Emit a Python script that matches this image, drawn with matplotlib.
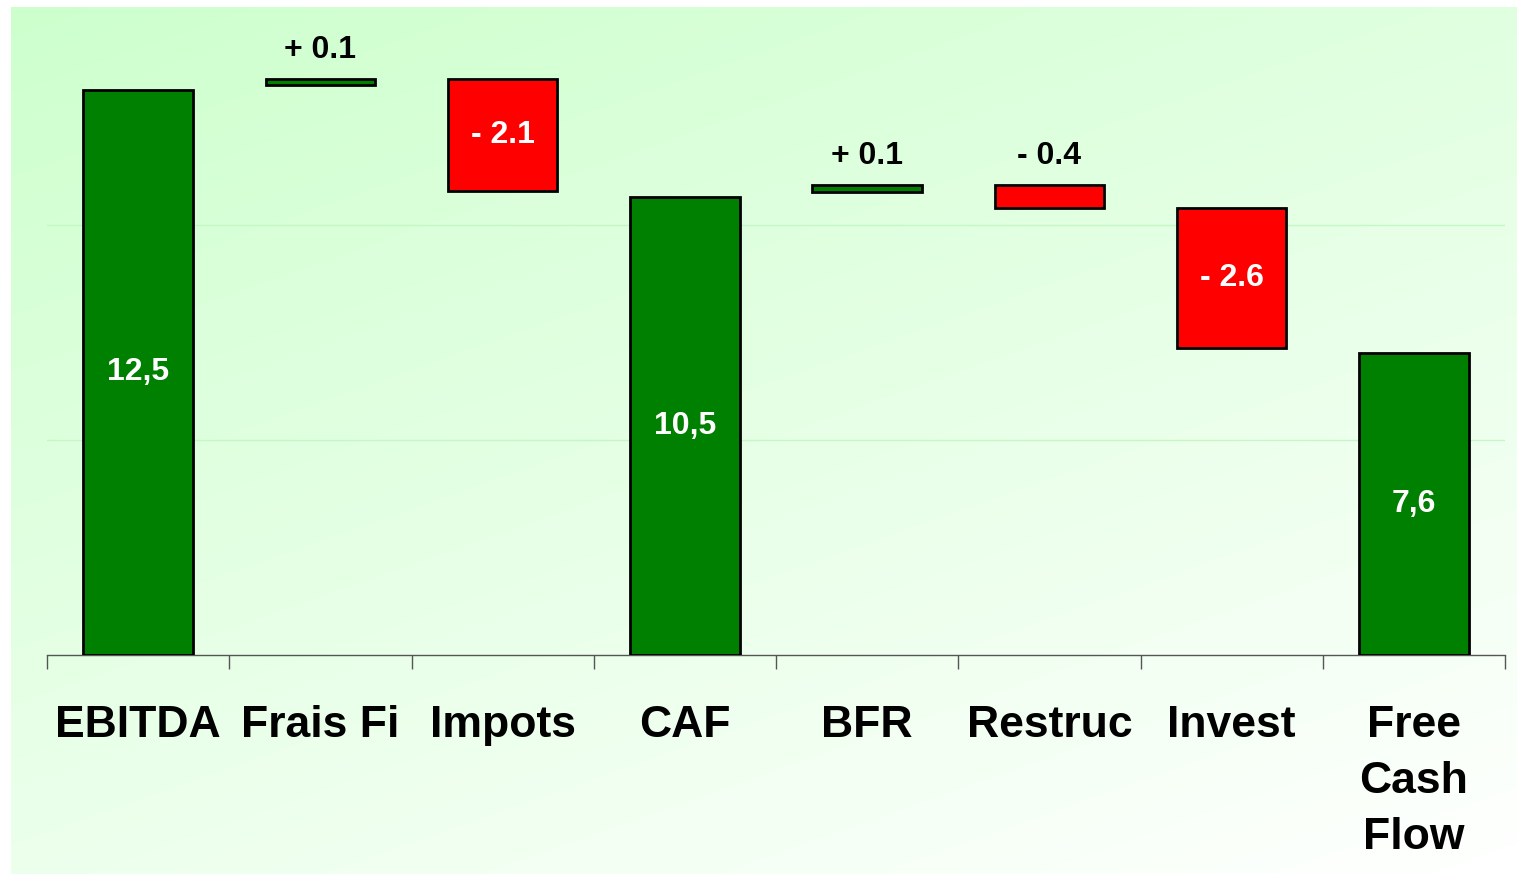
import numpy as np
import matplotlib
matplotlib.use('Agg')
import matplotlib.pyplot as plt

plt.rcParams['font.family'] = ['Liberation Sans', 'DejaVu Sans']
plt.rcParams['font.weight'] = 'bold'

# waterfall data (axis units, 0..15)
categories = ['EBITDA', 'Frais Fi', 'Impots', 'CAF', 'BFR', 'Restruc', 'Invest', 'Free\nCash\nFlow']
bar_low = [0, 13.26, 10.79, 0, 10.77, 10.40, 7.14, 0]
bar_high = [13.14, 13.40, 13.40, 10.65, 10.93, 10.93, 10.40, 7.02]
bar_kind = ['total', 'up', 'down', 'total', 'up', 'down', 'down', 'total']
value_labels = ['12,5', '+ 0.1', '- 2.1', '10,5', '+ 0.1', '- 0.4', '- 2.6', '7,6']
label_inside = [True, False, True, True, False, False, True, True]

kind_colors = {'total': '#008000', 'up': '#008000', 'down': '#ff0000'}

W, H = 1517, 874
fig = plt.figure(figsize=(W / 100, H / 100), dpi=100)
fig.patch.set_facecolor('white')

# gradient background panel
bg = fig.add_axes([11 / W, 0, 1 - 11 / W, 1 - 7 / H])
ny, nx = 200, 300
u = np.linspace(0, 1, nx)[None, :]
v = np.linspace(0, 1, ny)[:, None]
t = np.clip(0.62 * v + 0.38 * u, 0, 1)
top = np.array([205, 255, 205]) / 255
img = top[None, None, :] + (1 - top[None, None, :]) * t[:, :, None]
bg.imshow(img, aspect='auto', extent=[0, 1, 0, 1], interpolation='bilinear')
bg.set_axis_off()

ax = fig.add_axes([47 / W, (H - 655) / H, (1505 - 47) / W, (655 - 10) / H])
ax.patch.set_alpha(0)

x = np.arange(len(categories))
heights = np.array(bar_high) - np.array(bar_low)
colors = [kind_colors[k] for k in bar_kind]
bars = ax.bar(x, heights, bottom=bar_low, width=0.6, color=colors,
              edgecolor='black', linewidth=2, zorder=3)

for i, b in enumerate(bars):
    cx = b.get_x() + b.get_width() / 2
    if label_inside[i]:
        ax.text(cx, bar_low[i] + heights[i] / 2, value_labels[i], ha='center', va='center',
                color='white', fontsize=23, fontweight='bold', zorder=4)
    else:
        ax.annotate(value_labels[i], (cx, bar_high[i]), xytext=(0, 21),
                    textcoords='offset points', ha='center', va='center',
                    color='black', fontsize=23, fontweight='bold')

ax.set_xlim(-0.5, len(categories) - 0.5)
ax.set_ylim(0, 15)
ax.set_yticks([5, 10])
ax.yaxis.grid(True, color='#c4f7c4', linewidth=1)
ax.set_axisbelow(True)
ax.tick_params(axis='y', left=False, labelleft=False)

for s in ['top', 'right', 'left']:
    ax.spines[s].set_visible(False)
ax.spines['bottom'].set_color('#555555')
ax.spines['bottom'].set_linewidth(1)

ax.set_xticks(x)
ax.set_xticklabels(categories, fontsize=32, fontweight='bold', linespacing=1.47)
ax.set_xticks(np.arange(-0.5, len(categories)), minor=True)
ax.tick_params(axis='x', which='major', length=0, pad=36)
ax.tick_params(axis='x', which='minor', length=10, width=1, color='#555555', direction='out')

fig.savefig('out.png', dpi=100)
